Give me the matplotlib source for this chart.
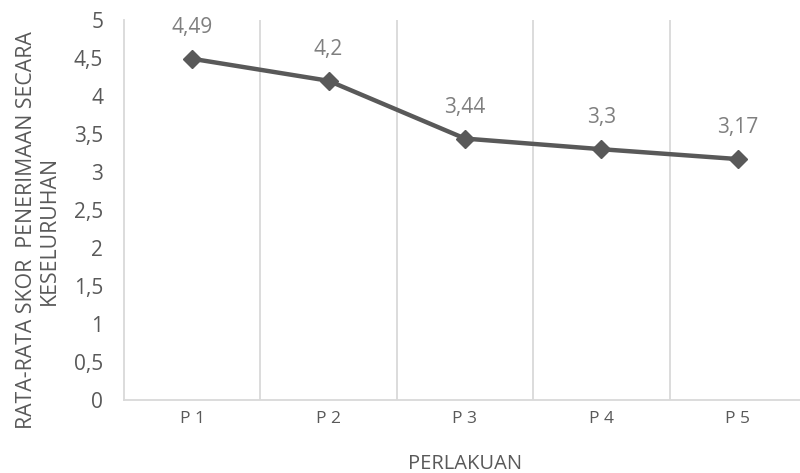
import matplotlib
matplotlib.use('Agg')
import matplotlib.pyplot as plt
from matplotlib.ticker import FuncFormatter, FixedLocator

# nilai rata-rata tiap perlakuan
perlakuan = ['P 1', 'P 2', 'P 3', 'P 4', 'P 5']
skor = [4.49, 4.2, 3.44, 3.3, 3.17]

plt.rcParams['font.family'] = ['Open Sans', 'DejaVu Sans']

grid_color = '#d9d9d9'
text_color = '#595959'

fig = plt.figure(figsize=(8, 4.73), dpi=100)
ax = fig.add_axes([124 / 800, 73 / 473, 682 / 800, 380 / 473])

x = list(range(len(perlakuan)))
ax.plot(x, skor, color='#595959', linewidth=3.2, marker='D', markersize=9, zorder=3)

for xi, v in zip(x, skor):
    label = ('%g' % v).replace('.', ',')
    ax.annotate(label, (xi, v), xytext=(0, 15), textcoords='offset points',
                ha='center', va='bottom', fontsize=15, color='#7f7f7f')

ax.set_xlim(-0.5, len(perlakuan) - 0.5)
ax.set_ylim(0, 5)
ax.set_yticks([i * 0.5 for i in range(11)])
ax.yaxis.set_major_formatter(FuncFormatter(lambda v, p: ('%g' % v).replace('.', ',')))
ax.set_xticks(x)
ax.set_xticklabels(perlakuan)

# garis pemisah antar kategori
ax.xaxis.set_minor_locator(FixedLocator([i + 0.5 for i in range(len(perlakuan))]))
ax.grid(True, which='minor', axis='x', color=grid_color, linewidth=1.3)
ax.tick_params(which='both', length=0)
ax.tick_params(axis='y', labelsize=15, labelcolor=text_color, pad=15)
ax.tick_params(axis='x', labelsize=12.5, labelcolor=text_color, pad=8)

for side in ['top', 'right']:
    ax.spines[side].set_visible(False)
for side in ['left', 'bottom']:
    ax.spines[side].set_color(grid_color)
    ax.spines[side].set_linewidth(1.3)

ax.set_ylabel('RATA-RATA SKOR  PENERIMAAN SECARA\nKESELURUHAN', fontsize=15.3,
              color=text_color, linespacing=1.1)
ax.yaxis.set_label_coords(-0.094, 0.447)
ax.set_xlabel('PERLAKUAN', fontsize=14.5, color=text_color, labelpad=19)

fig.savefig('out.png', dpi=100)
